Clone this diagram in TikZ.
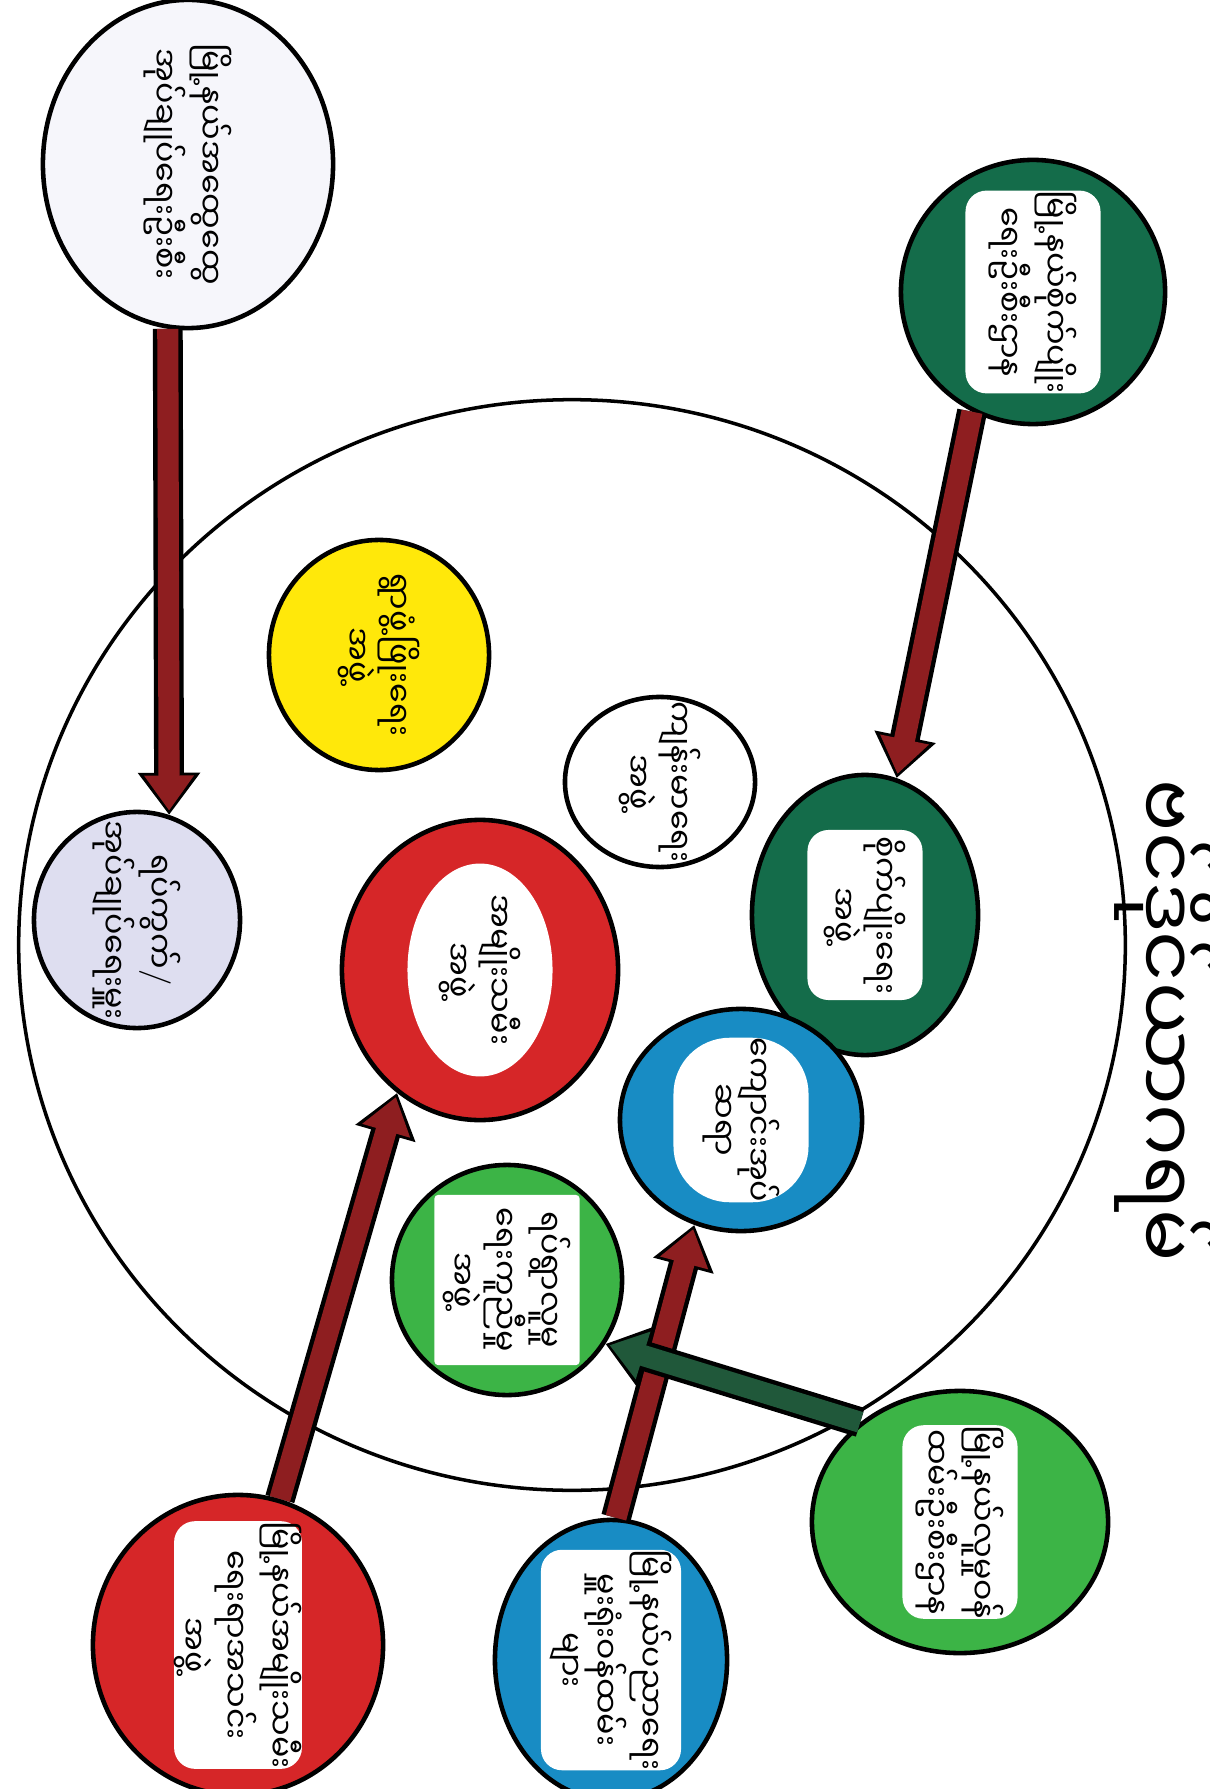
\documentclass[tikz,border=0pt]{standalone}
\usepackage{fontspec}
\newfontfamily\mmfont[Script=Myanmar]{Noto Sans Myanmar UI}
\newcommand{\slsh}{{\rmfamily /}}
\usetikzlibrary{shapes.geometric}
\usetikzlibrary{arrows.meta}
\definecolor{c1}{RGB}{214,38,40}
\definecolor{c2}{RGB}{24,140,196}
\definecolor{c3}{RGB}{60,180,70}
\definecolor{c4}{RGB}{20,108,74}
\definecolor{c5}{RGB}{255,232,10}
\definecolor{c6}{RGB}{222,222,240}
\definecolor{c7}{RGB}{246,246,251}
\definecolor{c8}{RGB}{142,30,32}
\definecolor{c9}{RGB}{32,88,58}

\begin{document}
\begin{tikzpicture}[x=0.01cm,y=-0.01cm,
    ring/.style={ellipse,draw=black,line width=1.3pt,inner sep=0pt},
    txt/.style={font=\mmfont\fontsize{9}{10}\selectfont,align=center,rotate=-90,inner sep=0pt},
    patch/.style={txt,fill=white,rounded corners=6pt},
    pipeout/.style={line width=8.5pt,draw=black,-{Triangle[length=12pt,width=17pt]}},
    pipein/.style={line width=6pt,-{Triangle[length=10pt,width=13.5pt]},shorten >=1.2pt}]
    \fill[white] (0,0) rectangle (1210,1789);
    \useasboundingbox (0,0) rectangle (1210,1789);
    % big circle and title
    \node[ring,line width=1pt,minimum width=11.06cm,minimum height=10.9cm] (all) at (572,945) {};
    \node[txt,font=\mmfont\fontsize{22}{26}\selectfont] (title) at (1166,1021) {ဗင်ဒိုင်ယာဂရမ်};
    % outside the big circle
    \begin{scope}
        \node[ring,fill=c7,minimum width=2.9cm,minimum height=3.28cm] (tl) at (188,164) {};
        \node[txt] (tl-t) at (tl) {မြို့နယ်အထွေထွေ\\အုပ်ချုပ်ရေးဦးစီး};
        \node[ring,fill=c4,minimum width=2.64cm,minimum height=2.64cm] (tr) at (1033,292) {};
        \node[patch,minimum width=1.65cm,minimum height=1.35cm] (tr-t) at (tr) {မြို့နယ်စိုက်ပျိုး\\ရေးဦးစီးဌာန};
        \node[ring,fill=c1,minimum width=2.9cm,minimum height=3cm] (redo) at (238,1645) {};
        \node[patch,minimum width=2.3cm,minimum height=1.15cm] (redo-t) at (redo) {မြို့နယ်အမျိုးသမီး\\ရေးရာအသင်း\\အဖွဲ့};
        \node[ring,fill=c2,minimum width=2.32cm,minimum height=2.8cm] (bluo) at (611,1660) {};
        \node[patch,minimum width=2.05cm,minimum height=1.4cm] (bluo-t) at (bluo) {မြို့နယ်ပညာရေး\\မှူးရုံးဝန်ထမ်း\\များ};
        \node[ring,fill=c3,minimum width=2.96cm,minimum height=2.62cm] (lgo) at (960,1522) {};
        \node[patch,minimum width=1.7cm,minimum height=1.15cm] (lgo-t) at (lgo) {မြို့နယ်လူမှုဝန်\\ထမ်းဦးစီးဌာန};
    \end{scope}
    % inside the big circle
    \begin{scope}
        \node[ring,fill=c6,minimum width=2.06cm,minimum height=2.16cm] (lav) at (137,920) {};
        \node[txt] (lav-t) at (lav) {ရပ်ကွက်\slsh\\အုပ်ချုပ်ရေးမှူး};
        \node[ring,fill=c5,minimum width=2.2cm,minimum height=2.3cm] (yel) at (379,655) {};
        \node[txt] (yel-t) at (yel) {ရွာဖွံ့ဖြိုးရေး\\အဖွဲ့};
        \node[ring,fill=white,minimum width=1.9cm,minimum height=1.7cm] (wht) at (660,782) {};
        \node[txt] (wht-t) at (wht) {ကျန်းမာရေး\\အဖွဲ့};
        \node[ring,fill=c1,minimum width=2.76cm,minimum height=3cm] (redi) at (480,970) {};
        \node[patch,ellipse,minimum width=2cm,minimum height=1.45cm] (redi-t) at (redi) {အမျိုးသမီး\\အဖွဲ့};
        \node[ring,fill=c4,minimum width=2.26cm,minimum height=2.8cm] (dgi) at (865,915) {};
        \node[patch,minimum width=1.7cm,minimum height=1.15cm] (dgi-t) at (dgi) {စိုက်ပျိုးရေး\\အဖွဲ့};
        \node[ring,fill=c2,minimum width=2.42cm,minimum height=2.22cm] (blui) at (741,1120) {};
        \node[patch,rounded corners=16pt,minimum width=1.6cm,minimum height=1.35cm] (blui-t) at (blui) {ကျောင်းအုပ်\\ဆရာ};
        \node[ring,fill=c3,minimum width=2.3cm,minimum height=2.3cm] (lgi) at (507,1280) {};
        \node[patch,rounded corners=1pt,minimum width=1.7cm,minimum height=1.45cm] (lgi-t) at (lgi) {ရပ်ရွာလူမှု\\ရေးကူညီမှု\\အဖွဲ့};
    \end{scope}
    % arrows from the township circles
    \draw[pipeout] (tl.263) -- (lav.73);
    \draw[pipein,draw=c8,fill=c8] (tl.263) -- (lav.73);
    \draw[pipeout] (tr.243) -- (dgi.77);
    \draw[pipein,draw=c8,fill=c8] (tr.243) -- (dgi.77);
    \draw[pipeout] (redo.74) -- (redi.236);
    \draw[pipein,draw=c8,fill=c8] (redo.74) -- (redi.236);
    \draw[pipeout] (bluo.88) -- (blui.246);
    \draw[pipein,draw=c8,fill=c8] (bluo.88) -- (blui.246);
    \draw[pipeout] (lgo.135) -- (lgi.327);
    \draw[pipein,draw=c9,fill=c9] (lgo.135) -- (lgi.327);
\end{tikzpicture}
\end{document}
